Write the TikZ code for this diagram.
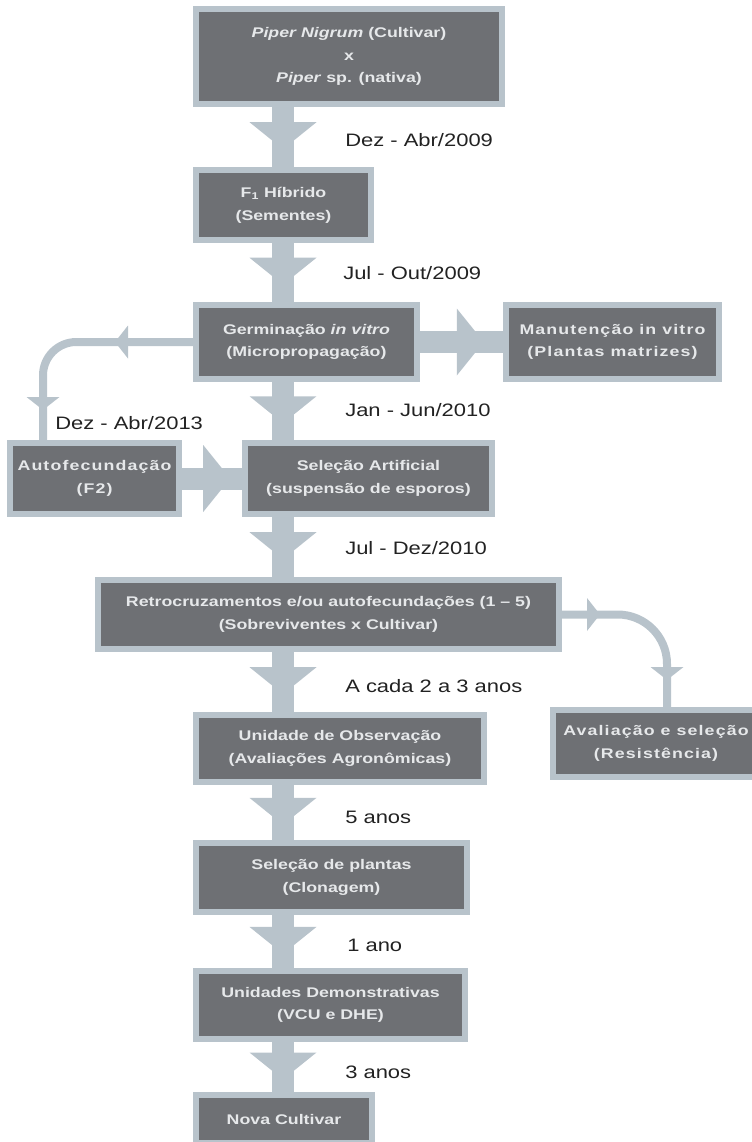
\documentclass[tikz,border=0pt]{standalone}
\usepackage{fontspec}
\setmainfont{Liberation Sans}[FakeStretch=1.22]
\newfontfamily\caixafont{Liberation Sans}[FakeStretch=1.27]
\newfontfamily\largafont{Liberation Sans}[FakeStretch=1.27,LetterSpace=8]
\usepackage{tikz}
\usetikzlibrary{backgrounds}
\usetikzlibrary{decorations.markings}
\definecolor{fundo}{HTML}{6E7074}
\definecolor{borda}{HTML}{B8C3CB}
\definecolor{letra}{HTML}{E6E8EA}
\definecolor{tinta}{HTML}{222222}
\tikzset{cx/.style={draw=borda,fill=fundo,line width=4.5pt,text=letra,align=center,inner sep=0pt,font=\caixafont\bfseries\fontsize{10.5}{17}\selectfont}}
\tikzset{cxl/.style={cx,font=\largafont\bfseries\fontsize{10.5}{17}\selectfont}}
\tikzset{rot/.style={anchor=west,text=tinta,inner sep=0pt,font=\fontsize{13.5}{16}\selectfont}}
\tikzset{haste/.style={draw=borda,line width=16.5pt,postaction={decorate},decoration={markings,mark=at position #1 with {\fill[borda,sharp corners] (-13,-33.5)--(14,0)--(-13,33.5)--cycle;}}},haste/.default=.47}
\tikzset{fio/.style 2 args={draw=borda,line width=6pt,postaction={decorate},decoration={markings,mark=at position #1 with {\fill[borda,sharp corners] (-13,-16.5)--(0,0)--(-13,16.5)--cycle;},mark=at position #2 with {\fill[borda,sharp corners] (-13,-16.5)--(0,0)--(-13,16.5)--cycle;}}}}

\begin{document}
\begin{tikzpicture}[x=0.75pt,y=-0.75pt]
\useasboundingbox (0,0) rectangle (752,1142);
% caixas
\node[cx,minimum width=229.5pt,minimum height=71.25pt] (piper) at (349,56.5) {\textit{Piper Nigrum} (Cultivar)\\x\\\textit{Piper} sp. (nativa)};
\node[cx,minimum width=131.25pt,minimum height=52.5pt] (f1) at (283.5,205) {F\textsubscript{1} Híbrido\\(Sementes)};
\node[cx,minimum width=165.75pt,minimum height=55.5pt] (germ) at (306.5,342) {Germinação \textit{in vitro}\\(Micropropagação)};
\node[cxl,minimum width=159.75pt,minimum height=55.5pt] (manut) at (612.5,342) {Manutenção in vitro\\(Plantas matrizes)};
\node[cxl,minimum width=126.75pt,minimum height=53.25pt] (autof) at (94.5,478.5) {Autofecundação\\(F2)};
\node[cx,minimum width=185.25pt,minimum height=53.25pt] (selart) at (368.5,478.5) {Seleção Artificial\\(suspensão de esporos)};
\node[cx,minimum width=345.75pt,minimum height=51.75pt] (retro) at (328.5,614.5) {Retrocruzamentos e/ou autofecundações (1 – 5)\\(Sobreviventes x Cultivar)};
\node[cx,minimum width=216pt,minimum height=50.25pt] (unid) at (340,748.5) {Unidade de Observação\\(Avaliações Agronômicas)};
\node[cxl,minimum width=154.5pt,minimum height=50.25pt] (aval) at (656,743.5) {Avaliação e seleção\\(Resistência)};
\node[cx,minimum width=203.25pt,minimum height=51.75pt] (selpl) at (331.5,877.5) {Seleção de plantas\\(Clonagem)};
\node[cx,minimum width=201.75pt,minimum height=51pt] (unidem) at (330.5,1005) {Unidades Demonstrativas\\(VCU e DHE)};
\node[cx,minimum width=132pt,minimum height=36pt] (nova) at (284,1119) {Nova Cultivar};
% rotulos
\node[rot] (r1) at (345,140) {Dez - Abr/2009};
\node[rot] (r2) at (343,273) {Jul - Out/2009};
\node[rot] (r3) at (345,410) {Jan - Jun/2010};
\node[rot] (r4) at (55,423) {Dez - Abr/2013};
\node[rot] (r5) at (345,548) {Jul - Dez/2010};
\node[rot] (r6) at (345,686) {A cada 2 a 3 anos};
\node[rot] (r7) at (345,817) {5 anos};
\node[rot] (r8) at (347,945) {1 ano};
\node[rot] (r9) at (345,1072) {3 anos};
% setas
\coordinate (eixo) at (283,0);
\coordinate (cantoE) at (43,342);
\coordinate (cantoD) at (667,614.5);
\begin{scope}[on background layer]
\draw[haste] (piper.south -| eixo) -- (f1.north -| eixo);
\draw[haste] (f1.south -| eixo) -- (germ.north -| eixo);
\draw[haste] (germ.south -| eixo) -- (selart.north -| eixo);
\draw[haste] (selart.south -| eixo) -- (retro.north -| eixo);
\draw[haste] (retro.south -| eixo) -- (unid.north -| eixo);
\draw[haste] (unid.south -| eixo) -- (selpl.north -| eixo);
\draw[haste] (selpl.south -| eixo) -- (unidem.north -| eixo);
\draw[haste] (unidem.south -| eixo) -- (nova.north -| eixo);
\draw[haste=.6] (germ.east) -- (manut.west);
\draw[haste=.57] (autof.east) -- (selart.west);
\draw[fio={58.5pt}{-22.5pt},rounded corners=25pt] (germ.west) -- (cantoE) -- (autof.north -| cantoE);
\draw[fio={28.5pt}{-20.25pt},rounded corners=37pt] (retro.east) -- (cantoD) -- (aval.north -| cantoD);
\end{scope}
\end{tikzpicture}
\end{document}
